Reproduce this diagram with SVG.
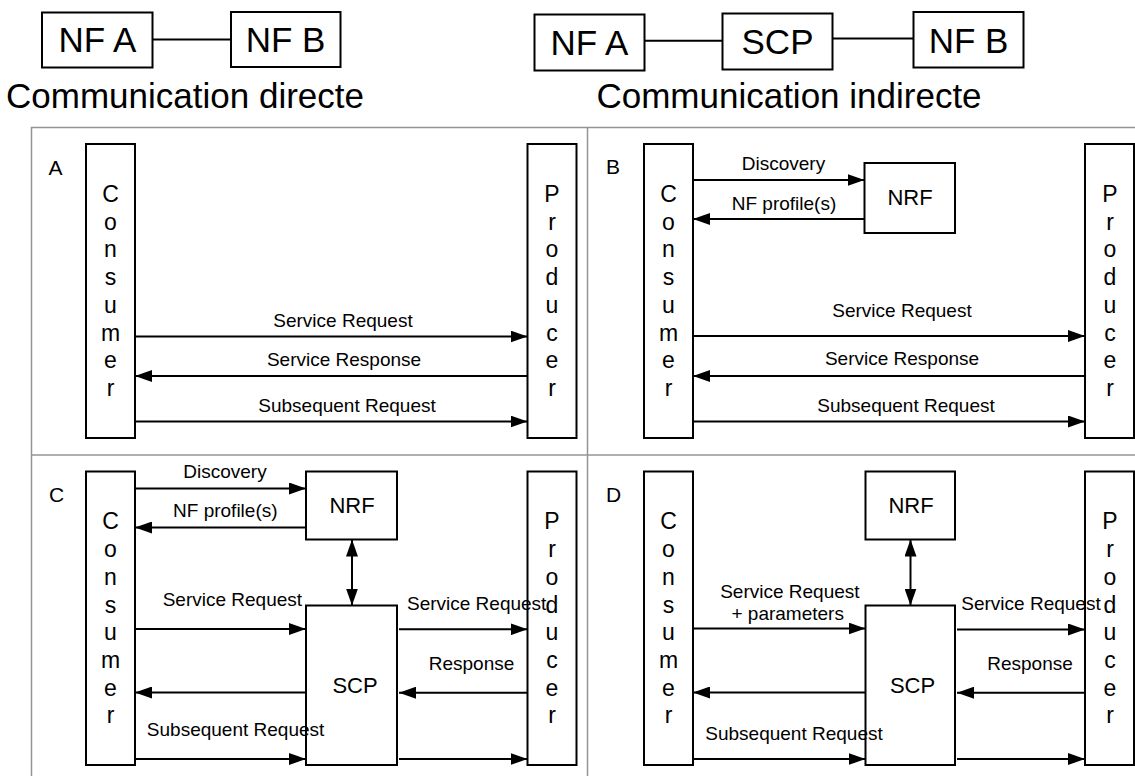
<svg xmlns="http://www.w3.org/2000/svg" width="1135" height="776" viewBox="0 0 1135 776">
<defs>
<style>
.box{fill:#fff;stroke:#000;stroke-width:2}
.grid{stroke:#949494;stroke-width:1.5;fill:none}
.ln{stroke:#000;stroke-width:2;fill:none}
.ar{stroke:#000;stroke-width:2;fill:none;marker-end:url(#ah)}
.dar{stroke:#000;stroke-width:2;fill:none;marker-end:url(#ah);marker-start:url(#ah)}
text{font-family:"Liberation Sans",Arial,sans-serif;fill:#000}
.big{font-size:35px;text-anchor:middle}
.lbl{font-size:19px;text-anchor:middle}
.nm{font-size:22px;text-anchor:middle}
.vt{font-size:23px;text-anchor:middle}
.pl{font-size:21px}
</style>
<marker id="ah" markerUnits="userSpaceOnUse" markerWidth="17" markerHeight="12" refX="17" refY="6" orient="auto-start-reverse" viewBox="0 0 17 12">
<path d="M0,0 L17,6 L0,12 z" fill="#000"/>
</marker>
</defs>
<rect width="1135" height="776" fill="#fff"/>

<g id="top-direct">
<rect class="box" x="42" y="12.5" width="110.5" height="55"/>
<text class="big" x="97.5" y="52">NF A</text>
<rect class="box" x="231" y="12" width="109.5" height="55"/>
<text class="big" x="285.5" y="52">NF B</text>
<text class="big" x="185" y="108">Communication directe</text>
</g>
<g id="top-indirect">
<rect class="box" x="534.5" y="14.5" width="110" height="56"/>
<text class="big" x="589.5" y="54.5">NF A</text>
<rect class="box" x="722.5" y="13.5" width="110" height="56"/>
<text class="big" x="777.5" y="54">SCP</text>
<rect class="box" x="913.5" y="12" width="110" height="55.5"/>
<text class="big" x="968.5" y="52.5">NF B</text>
<text class="big" x="789" y="108">Communication indirecte</text>
</g>
<g id="top-links">
<path class="ln" d="M152.5 39.5 H231"/>
<path class="ln" d="M644.5 40.7 H722.5"/>
<path class="ln" d="M832.5 38.5 H913.5"/>
</g>

<g id="grid">
<path class="grid" d="M31.5 776 V127.5 H1135"/>
<path class="grid" d="M587.5 127.5 V776"/>
<path class="grid" d="M31.5 455 H1135"/>
</g>

<g id="panelA">
<text class="pl" x="48.5" y="174.5">A</text>
<g id="A-consumer">
<rect class="box" x="86" y="144" width="49" height="294"/>
<text class="vt" x="110.5" y="202"><tspan x="110.5">C</tspan><tspan x="110.5" dy="27.7">o</tspan><tspan x="110.5" dy="27.7">n</tspan><tspan x="110.5" dy="27.7">s</tspan><tspan x="110.5" dy="27.7">u</tspan><tspan x="110.5" dy="27.7">m</tspan><tspan x="110.5" dy="27.7">e</tspan><tspan x="110.5" dy="27.7">r</tspan></text>
</g>
<g id="A-producer">
<rect class="box" x="527.5" y="144" width="49" height="294"/>
<text class="vt" x="552" y="202"><tspan x="552">P</tspan><tspan x="552" dy="27.7">r</tspan><tspan x="552" dy="27.7">o</tspan><tspan x="552" dy="27.7">d</tspan><tspan x="552" dy="27.7">u</tspan><tspan x="552" dy="27.7">c</tspan><tspan x="552" dy="27.7">e</tspan><tspan x="552" dy="27.7">r</tspan></text>
</g>
</g>

<g id="panelB">
<text class="pl" x="606" y="173.5">B</text>
<g id="B-consumer">
<rect class="box" x="644" y="144" width="49" height="294"/>
<text class="vt" x="668.5" y="202"><tspan x="668.5">C</tspan><tspan x="668.5" dy="27.7">o</tspan><tspan x="668.5" dy="27.7">n</tspan><tspan x="668.5" dy="27.7">s</tspan><tspan x="668.5" dy="27.7">u</tspan><tspan x="668.5" dy="27.7">m</tspan><tspan x="668.5" dy="27.7">e</tspan><tspan x="668.5" dy="27.7">r</tspan></text>
</g>
<g id="B-nrf">
<rect class="box" x="864.5" y="163" width="90.5" height="70"/>
<text class="nm" x="910" y="205">NRF</text>
</g>
<g id="B-producer">
<rect class="box" x="1085" y="144" width="49" height="294"/>
<text class="vt" x="1110" y="202"><tspan x="1110">P</tspan><tspan x="1110" dy="27.7">r</tspan><tspan x="1110" dy="27.7">o</tspan><tspan x="1110" dy="27.7">d</tspan><tspan x="1110" dy="27.7">u</tspan><tspan x="1110" dy="27.7">c</tspan><tspan x="1110" dy="27.7">e</tspan><tspan x="1110" dy="27.7">r</tspan></text>
</g>
</g>

<g id="panelC">
<text class="pl" x="49" y="501.7">C</text>
<g id="C-consumer">
<rect class="box" x="86" y="471.5" width="49" height="293.5"/>
<text class="vt" x="110.5" y="529.4"><tspan x="110.5">C</tspan><tspan x="110.5" dy="27.7">o</tspan><tspan x="110.5" dy="27.7">n</tspan><tspan x="110.5" dy="27.7">s</tspan><tspan x="110.5" dy="27.7">u</tspan><tspan x="110.5" dy="27.7">m</tspan><tspan x="110.5" dy="27.7">e</tspan><tspan x="110.5" dy="27.7">r</tspan></text>
</g>
<g id="C-nrf">
<rect class="box" x="306" y="471.5" width="91" height="68"/>
<text class="nm" x="352" y="512.7">NRF</text>
</g>
<g id="C-scp">
<rect class="box" x="306" y="605.5" width="91" height="159.5"/>
<text class="nm" x="355" y="692.7">SCP</text>
</g>
<g id="C-producer">
<rect class="box" x="527.5" y="471.5" width="49" height="293.5"/>
<text class="vt" x="552" y="529.4"><tspan x="552">P</tspan><tspan x="552" dy="27.7">r</tspan><tspan x="552" dy="27.7">o</tspan><tspan x="552" dy="27.7">d</tspan><tspan x="552" dy="27.7">u</tspan><tspan x="552" dy="27.7">c</tspan><tspan x="552" dy="27.7">e</tspan><tspan x="552" dy="27.7">r</tspan></text>
</g>
</g>

<g id="panelD">
<text class="pl" x="606" y="501.7">D</text>
<g id="D-consumer">
<rect class="box" x="644" y="471.5" width="49" height="293.5"/>
<text class="vt" x="668.5" y="529.4"><tspan x="668.5">C</tspan><tspan x="668.5" dy="27.7">o</tspan><tspan x="668.5" dy="27.7">n</tspan><tspan x="668.5" dy="27.7">s</tspan><tspan x="668.5" dy="27.7">u</tspan><tspan x="668.5" dy="27.7">m</tspan><tspan x="668.5" dy="27.7">e</tspan><tspan x="668.5" dy="27.7">r</tspan></text>
</g>
<g id="D-nrf">
<rect class="box" x="865.5" y="471.5" width="89.5" height="68"/>
<text class="nm" x="911" y="512.7">NRF</text>
</g>
<g id="D-scp">
<rect class="box" x="865.5" y="605.5" width="89.5" height="159.5"/>
<text class="nm" x="912.5" y="692.7">SCP</text>
</g>
<g id="D-producer">
<rect class="box" x="1085" y="471.5" width="49" height="293.5"/>
<text class="vt" x="1110" y="529.4"><tspan x="1110">P</tspan><tspan x="1110" dy="27.7">r</tspan><tspan x="1110" dy="27.7">o</tspan><tspan x="1110" dy="27.7">d</tspan><tspan x="1110" dy="27.7">u</tspan><tspan x="1110" dy="27.7">c</tspan><tspan x="1110" dy="27.7">e</tspan><tspan x="1110" dy="27.7">r</tspan></text>
</g>
</g>

<g id="connectors">
<path class="ar" d="M135 336.5 H527.5"/>
<path class="ar" d="M527.5 376 H135"/>
<path class="ar" d="M135 421.5 H527.5"/>
<path class="ar" d="M693 180 H864.5"/>
<path class="ar" d="M864.5 219 H693"/>
<path class="ar" d="M693 336 H1085"/>
<path class="ar" d="M1085 376 H693"/>
<path class="ar" d="M693 421.5 H1085"/>
<path class="ar" d="M135 488.5 H306"/>
<path class="ar" d="M306 527.5 H135"/>
<path class="dar" d="M352 539.5 V605.5"/>
<path class="ar" d="M135 629 H306"/>
<path class="ar" d="M399 629.3 H527.5"/>
<path class="ar" d="M527.5 692.7 H399"/>
<path class="ar" d="M306 692.5 H135"/>
<path class="ar" d="M135 759 H306"/>
<path class="ar" d="M399 759 H527.5"/>
<path class="dar" d="M910.5 539.5 V605.5"/>
<path class="ar" d="M693 628.5 H865.5"/>
<path class="ar" d="M957 629.5 H1085"/>
<path class="ar" d="M1085 692.7 H957"/>
<path class="ar" d="M865.5 692.5 H693"/>
<path class="ar" d="M693 759 H865.5"/>
<path class="ar" d="M957 759 H1085"/>
</g>

<g id="connector-labels">
<text class="lbl" x="343" y="327">Service Request</text>
<text class="lbl" x="344" y="366">Service Response</text>
<text class="lbl" x="347" y="411.5">Subsequent Request</text>

<text class="lbl" x="783.5" y="170">Discovery</text>
<text class="lbl" x="784" y="210">NF profile(s)</text>
<text class="lbl" x="902" y="316.7">Service Request</text>
<text class="lbl" x="902" y="365">Service Response</text>
<text class="lbl" x="906" y="411.5">Subsequent Request</text>

<text class="lbl" x="225" y="478.3">Discovery</text>
<text class="lbl" x="225.3" y="516.7">NF profile(s)</text>
<text class="lbl" x="232.4" y="605.7">Service Request</text>
<text class="lbl" x="476.7" y="610.3">Service Request</text>
<text class="lbl" x="471.5" y="670">Response</text>
<text class="lbl" x="235.6" y="736">Subsequent Request</text>

<text class="lbl" x="789.9" y="598.3">Service Request</text>
<text class="lbl" x="787.7" y="620">+ parameters</text>
<text class="lbl" x="1031" y="610.3">Service Request</text>
<text class="lbl" x="1030" y="670">Response</text>
<text class="lbl" x="794" y="740">Subsequent Request</text>
</g>
</svg>
